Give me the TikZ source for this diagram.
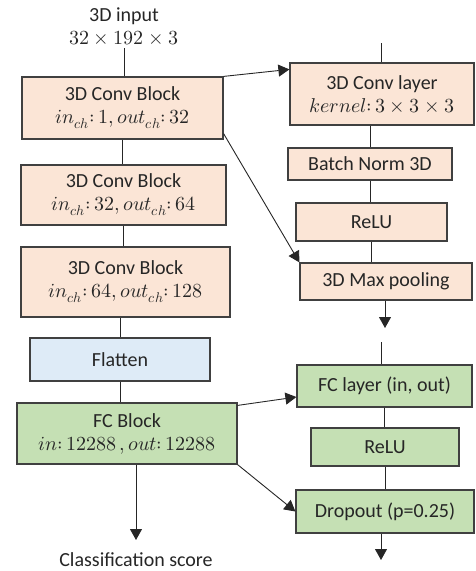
\documentclass[tikz,border=0pt]{standalone}
\usepackage{fontspec}
\usepackage{unicode-math}
\setmainfont{Carlito}
\setmathfont{Latin Modern Math}
\usepackage{tikz}
\usetikzlibrary{positioning,arrows.meta}

\definecolor{convfill}{HTML}{FBE5D6}
\definecolor{flatfill}{HTML}{DEEBF7}
\definecolor{fcfill}{HTML}{C5E0B4}
\definecolor{boxline}{HTML}{404040}
\definecolor{txt}{HTML}{262626}

\tikzset{
  blk/.style={draw=boxline, line width=1.2pt, inner sep=0pt, align=center, text=txt, font=\fontsize{20}{23}\selectfont},
  conv/.style={blk, fill=convfill},
  flat/.style={blk, fill=flatfill},
  fc/.style={blk, fill=fcfill},
  link/.style={draw=black!85, line width=0.9pt},
  arr/.style={link, -{Triangle[width=12pt,length=11pt]}},
  lbl/.style={align=center, text=txt, font=\fontsize{20}{23}\selectfont}
}

\begin{document}
\begin{tikzpicture}[x=1pt, y=-1pt]
		\useasboundingbox (0,0) rectangle (475,571);
		% left column
		\node[lbl] (inp) at (124,26) {3D input\\$32\times192\times3$};
		\node[conv, minimum width=201pt, minimum height=62pt] (cb1) at (122.5,108) {3D Conv Block\\$in_{ch}{:}\,1, out_{ch}{:}\,32$};
		\node[conv, minimum width=205pt, minimum height=60pt] (cb2) at (123.5,195) {3D Conv Block\\$in_{ch}{:}\,32, out_{ch}{:}\,64$};
		\node[conv, minimum width=209pt, minimum height=70pt] (cb3) at (125.5,282) {3D Conv Block\\$in_{ch}{:}\,64, out_{ch}{:}\,128$};
		\node[flat, minimum width=180pt, minimum height=43pt] (flat) at (120,359.5) {Flatten};
		\node[fc, minimum width=220pt, minimum height=61pt] (fcb) at (127,433.5) {FC Block\\$in{:}\,12288\,, out{:}\,12288$};
		\node[lbl] (score) at (136,560) {Classification score};
		\coordinate (fcout) at (136,540);
		% right column
		\node[conv, minimum width=184pt, minimum height=62pt] (cl) at (382,94) {3D Conv layer\\$kernel{:}\,3\times3\times3$};
		\node[conv, minimum width=164pt, minimum height=32pt] (bn) at (370,164) {Batch Norm 3D};
		\node[conv, minimum width=151pt, minimum height=38pt] (relu1) at (371.5,222) {ReLU};
		\node[conv, minimum width=172pt, minimum height=37pt] (mp) at (386,281.5) {3D Max pooling};
		\node[fc, minimum width=175pt, minimum height=42pt] (fcl) at (384.5,386) {FC layer (in, out)};
		\node[fc, minimum width=148pt, minimum height=38pt] (relu2) at (385,447) {ReLU};
		\node[fc, minimum width=178pt, minimum height=43pt] (dp) at (385,511.5) {Dropout (p=0.25)};
		\coordinate (clin) at (381,43);
		\coordinate (mpout) at (385,328);
		\coordinate (fcin) at (381,342);
		\coordinate (dpout) at (381,560);
		% connectors
		\draw[link] (inp.south) -- (inp.south |- cb1.north);
		\draw[link] (cb1.south) -- (cb1.south |- cb2.north);
		\draw[link] (cb2.south) -- (cb2.south |- cb3.north);
		\draw[link] (flat.north |- cb3.south) -- (flat.north);
		\draw[link] (flat.south) -- (flat.south |- fcb.north);
		\draw[arr] (fcout |- fcb.south) -- (fcout);
		\draw[link] (clin) -- (clin |- cl.north);
		\draw[link] (cl.south -| bn.north) -- (bn.north);
		\draw[link] (bn.south) -- (bn.south |- relu1.north);
		\draw[link] (relu1.south) -- (relu1.south |- mp.north);
		\draw[arr] (mpout |- mp.south) -- (mpout);
		\draw[link] (fcin) -- (fcin |- fcl.north);
		\draw[link] (fcl.south) -- (fcl.south |- relu2.north);
		\draw[link] (relu2.south) -- (relu2.south |- dp.north);
		\draw[arr] (dpout |- dp.south) -- (dpout);
		% block to layer arrows
		\draw[arr] (cb1.north east) -- ([yshift=-7pt]cl.north west);
		\draw[arr] ([yshift=6pt]cb1.south east) -- (mp.north west);
		\draw[arr] ([yshift=-3pt]fcb.north east) -- ([yshift=-11pt]fcl.west);
		\draw[arr] (fcb.south east) -- (dp.west);
	\end{tikzpicture}
\end{document}
